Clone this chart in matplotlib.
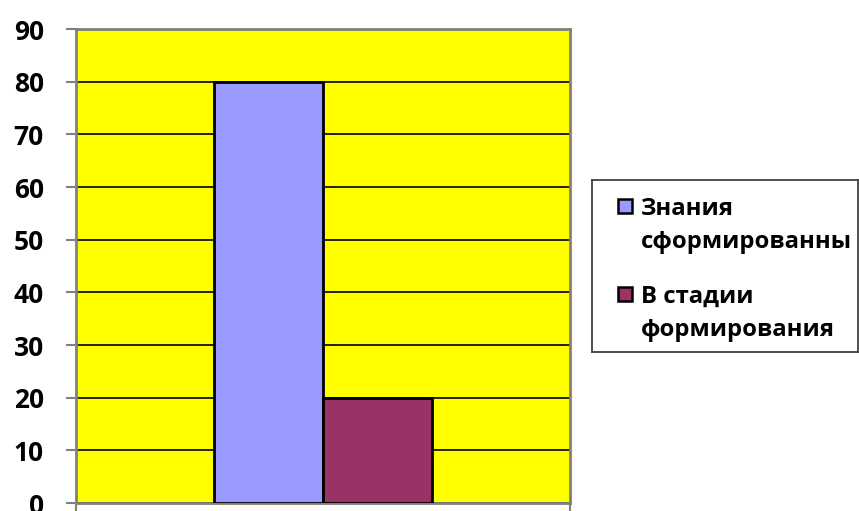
import matplotlib
matplotlib.use("Agg")
import matplotlib.pyplot as plt
from matplotlib.patches import Rectangle

# Data
series_labels = ["Знания\nсформированны", "В стадии\nформирования"]
series_values = [80, 20]
series_colors = ["#9999FF", "#993366"]
y_ticks = [0, 10, 20, 30, 40, 50, 60, 70, 80, 90]

plt.rcParams["font.family"] = ["Open Sans", "DejaVu Sans"]
plt.rcParams["font.weight"] = "bold"

W, H = 859, 511
PX = 72 / 100  # points per pixel at dpi 100
fig = plt.figure(figsize=(W / 100, H / 100), dpi=100)
ax = fig.add_axes([76 / W, (H - 503) / H, (570 - 76) / W, (503 - 29) / H])
ax.set_facecolor("#FFFF00")

bar_w = 0.22
offsets = [-bar_w / 2, bar_w / 2]
for off, val, col, lab in zip(offsets, series_values, series_colors, series_labels):
    ax.bar(off, val, width=bar_w, color=col, edgecolor="black",
           linewidth=2, label=lab, zorder=3)

ax.set_xlim(-0.5, 0.5)
ax.set_ylim(0, 90)
ax.set_yticks(y_ticks)
ax.set_xticks([-0.5, 0.5])
ax.set_xticklabels([])
ax.yaxis.grid(True, color="black", linewidth=1.2, zorder=1)
ax.set_axisbelow(True)
ax.tick_params(axis="y", length=10 * PX, width=1.5, color="#808080",
               labelsize=19, pad=22 * PX)
ax.tick_params(axis="x", length=10 * PX, width=1.5, color="#808080")
for lbl in ax.get_yticklabels():
    lbl.set_fontweight("bold")
for side in ["left", "top", "right", "bottom"]:
    ax.spines[side].set_color("#808080")
    ax.spines[side].set_linewidth(2)

# Legend box, laid out in pixel units
lx0, ly0, lx1, ly1 = 592, 180, 858, 352
lax = fig.add_axes([lx0 / W, (H - ly1) / H, (lx1 - lx0) / W, (ly1 - ly0) / H])
lax.set_xlim(0, lx1 - lx0)
lax.set_ylim(ly1 - ly0, 0)
lax.set_xticks([])
lax.set_yticks([])
lax.set_facecolor("white")
for s in lax.spines.values():
    s.set_color("#404040")
    s.set_linewidth(1.3)

entry_tops = [19, 107]       # handle top inside the box
first_baselines = [35, 123]  # baseline of first text line
line_step = 33
for top, base, col, lab in zip(entry_tops, first_baselines, series_colors, series_labels):
    lax.add_patch(Rectangle((26, top), 14, 14, facecolor=col,
                            edgecolor="black", linewidth=1.8))
    for i, line in enumerate(lab.split("\n")):
        lax.text(49, base + i * line_step, line, fontsize=17.2,
                 fontweight="bold", va="baseline", ha="left", clip_on=False)

fig.savefig("out.png", dpi=100)
